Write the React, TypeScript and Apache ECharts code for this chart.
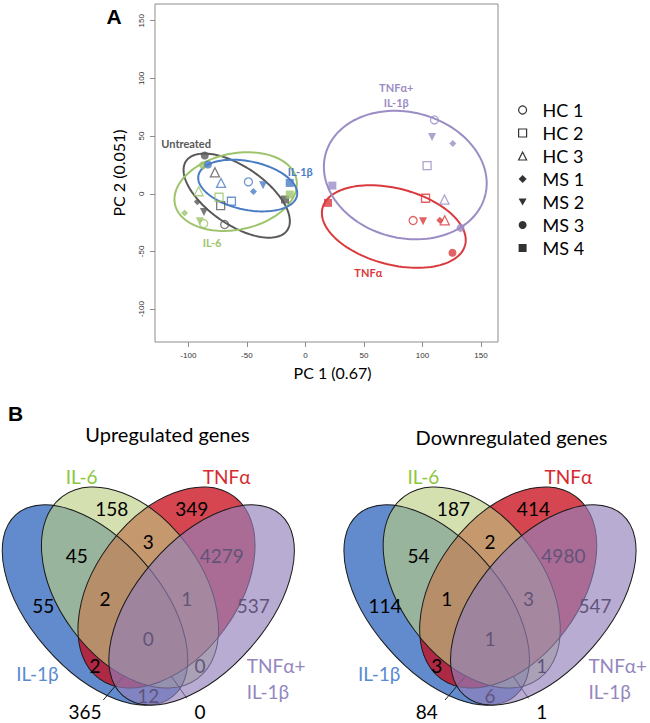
import React, { useEffect, useRef } from "react";
import * as echarts from "echarts";

// ---------- Panel A data ----------
const groups = ["Untreated", "IL-6", "IL-1β", "TNFα", "TNFα+IL-1β"];
const samples = ["HC 1", "HC 2", "HC 3", "MS 1", "MS 2", "MS 3", "MS 4"];
// PC1 / PC2 per treatment group, in sample order (HC1..MS4)
const pc1Untreated = [-69, -72.4, -77.3, -92.3, -86.7, -86, -17.4];
const pc2Untreated = [-26.7, -10.2, 18.6, -7, -15.7, 33.1, -5];
const pc1IL6 = [-86.9, -73.8, -91.2, -103.2, -90.3, -87.5, -13.4];
const pc2IL6 = [-25.8, -3, 2.2, -16.6, -23.8, 24.7, -0.7];
const pc1IL1b = [-48.7, -63.2, -72.1, -44.4, -36.2, -83.2, -13.4];
const pc2IL1b = [10.3, -6.5, 9.4, 1.9, 7.4, 25.3, 9.4];
const pc1TNF = [92, 102.6, 119, 114.8, 100.5, 125.6, 19.3];
const pc2TNF = [-23.2, -3.9, -23, -23, -23.8, -51.2, -7.9];
const pc1Combo = [110.2, 103.9, 118.8, 125.9, 108.2, 132.5, 23];
const pc2Combo = [64, 24.4, -5, 43.5, 49.3, -29.6, 7.1];

// group ellipses (data units): centre, semi-axes, angle in degrees
const ellipseCx = [-58.7, -59.6, -49.3, 75.5, 85.3];
const ellipseCy = [-1.6, 1.9, 7.1, -28.4, 16.2];
const ellipseA = [52.6, 53, 43, 63, 70.5];
const ellipseB = [25, 33, 21, 33, 54.5];
const ellipseAngle = [-35, 12, -12, -15, -15];

// group labels
const labelText = ["Untreated", "IL-6", "IL-1β", "TNFα", "TNFα+\nIL-1β"];
const labelPc1 = [-101.9, -79.7, -4.4, 53.7, 77.6];
const labelPc2 = [43.2, -42.3, 19.5, -68.3, 85.3];

const axisTicks = [-100, -50, 0, 50, 100, 150];

// ---------- Panel B data ----------
const vennSets = ["IL-1β", "IL-6", "TNFα", "TNFα+\nIL-1β"];
const vennRegions = [
  "IL-6", "TNFα", "IL-1β∩IL-6", "IL-6∩TNFα", "TNFα∩TNFα+IL-1β", "IL-1β",
  "IL-1β∩IL-6∩TNFα", "IL-6∩TNFα∩TNFα+IL-1β", "TNFα+IL-1β", "all four",
  "IL-1β∩TNFα", "IL-6∩TNFα+IL-1β", "IL-1β∩TNFα+IL-1β",
  "IL-1β∩TNFα∩TNFα+IL-1β", "IL-1β∩IL-6∩TNFα+IL-1β",
];
const upregulated = [158, 349, 45, 3, 4279, 55, 2, 1, 537, 0, 2, 0, 12, 365, 0];
const downregulated = [187, 414, 54, 2, 4980, 114, 1, 3, 547, 1, 3, 1, 6, 84, 1];
const vennTitles = ["Upregulated genes", "Downregulated genes"];

// ---------- styles / layout ----------
const groupColors = ["#595959", "#9dc46b", "#4a7cc4", "#d93a3d", "#9b8cc6"];
const sampleSymbols = ["circle", "rect", "triangle", "diamond", "path://M0,0L10,0L5,9Z", "circle", "rect"];
const sampleHollow = [true, true, true, false, false, false, false];
const sampleSizes = [8, 8, 9, 7, 8, 8, 8];
const FONT = "Lato, 'Open Sans', sans-serif";

const regionPos = [
  [111.7, 508.3], [191.7, 508.3], [76.7, 555], [148.3, 541.7], [221.7, 555], [43.3, 605],
  [105, 598.3], [186.7, 598.3], [253.3, 605], [148.3, 638.3], [95, 665], [200, 665],
  [148.3, 695], [85, 711.7], [200, 711.7],
];
const leaderLines = [
  [103.3, 700, 123.3, 676.7],
  [186.7, 698.3, 171.7, 676.7],
];

function vennGraphics(counts: number[], dx: number, title: string, titleX: number, titleY: number) {
  const els: any[] = [];
  const ell = (e: number[], fill: string, stroke: boolean) => ({
    type: "ellipse",
    x: e[0] + dx,
    y: e[1],
    rotation: (e[4] * Math.PI) / 180,
    shape: { cx: 0, cy: 0, rx: e[2], ry: e[3] },
    style: { fill, stroke: stroke ? "#1a1a1a" : "none", lineWidth: 1 },
    silent: true,
  });
  const blue = [95, 605, 120, 65, -49];
  const red = [166.5, 587.5, 113.3, 71.4, 53.5];
  const green = [130, 587.5, 113.3, 71.4, -53.5];
  const purple = [201.6, 605, 120, 65, 49];
  els.push(ell(blue, "rgba(37,94,186,0.72)", false));
  els.push(ell(red, "rgba(199,8,22,0.75)", false));
  els.push(ell(green, "rgba(187,205,128,0.62)", false));
  [blue, red, green].forEach((e) => els.push(ell(e, "none", true)));
  counts.forEach((c, i) => {
    els.push({
      type: "text",
      x: regionPos[i][0] + dx,
      y: regionPos[i][1],
      silent: true,
      style: { text: String(c), fill: "#000", font: `19px ${FONT}`, align: "center", verticalAlign: "middle" },
    });
  });
  leaderLines.forEach((l) =>
    els.push({ type: "line", silent: true, shape: { x1: l[0] + dx, y1: l[1], x2: l[2] + dx, y2: l[3] }, style: { stroke: "#1a1a1a", lineWidth: 1 } })
  );
  els.push(ell(purple, "rgba(147,128,186,0.65)", true));
  // set labels
  const setLab = [
    { t: vennSets[0], x: 37.5, y: 673.5, c: "#5a8bd0", a: "center" },
    { t: vennSets[1], x: 81.7, y: 476.7, c: "#8cc63e", a: "center" },
    { t: vennSets[2], x: 226.7, y: 476.7, c: "#d62b2f", a: "center" },
    { t: vennSets[3], x: 246.7, y: 678.5, c: "#9487c0", a: "left" },
  ];
  setLab.forEach((s) =>
    els.push({
      type: "text",
      x: s.x + dx,
      y: s.y,
      silent: true,
      style: { text: s.t, fill: s.c, font: `19px ${FONT}`, align: s.a, verticalAlign: "middle", lineHeight: 26 },
    })
  );
  els.push({
    type: "text",
    x: titleX,
    y: titleY,
    silent: true,
    style: { text: title, fill: "#000", font: `20px ${FONT}`, align: "center", verticalAlign: "middle" },
  });
  return els;
}

export default function App() {
  const ref = useRef<HTMLDivElement>(null);
  useEffect(() => {
    if (!ref.current) return;
    const chart = echarts.init(ref.current, undefined, { renderer: "svg" });
    const pc1 = [pc1Untreated, pc1IL6, pc1IL1b, pc1TNF, pc1Combo];
    const pc2 = [pc2Untreated, pc2IL6, pc2IL1b, pc2TNF, pc2Combo];

    const scatterSeries = samples.map((s, i) => ({
      type: "scatter",
      name: s,
      symbol: sampleSymbols[i],
      symbolSize: sampleSizes[i],
      z: 4,
      silent: true,
      itemStyle: sampleHollow[i]
        ? { color: "rgba(0,0,0,0)", borderColor: "#000", borderWidth: 1.3 }
        : { color: "#000", borderWidth: 0 },
      data: groups.map((g, gi) => ({
        name: g,
        value: [pc1[gi][i], pc2[gi][i]],
        itemStyle: sampleHollow[i]
          ? { color: "rgba(0,0,0,0)", borderColor: groupColors[gi], borderWidth: 1.3 }
          : { color: groupColors[gi] },
      })),
    }));

    const ellipseSeries = {
      type: "custom",
      name: "ellipses",
      coordinateSystem: "cartesian2d",
      silent: true,
      z: 2,
      encode: { x: 0, y: 1 },
      data: groups.map((g, i) => [ellipseCx[i], ellipseCy[i], ellipseA[i], ellipseB[i], ellipseAngle[i], i]),
      renderItem: (params: any, api: any) => {
        const cx = api.value(0), cy = api.value(1), a = api.value(2), b = api.value(3);
        const ang = (api.value(4) * Math.PI) / 180;
        const gi = api.value(5);
        const pts: number[][] = [];
        for (let k = 0; k < 120; k++) {
          const t = (k / 120) * 2 * Math.PI;
          const x = cx + a * Math.cos(t) * Math.cos(ang) - b * Math.sin(t) * Math.sin(ang);
          const y = cy + a * Math.cos(t) * Math.sin(ang) + b * Math.sin(t) * Math.cos(ang);
          pts.push(api.coord([x, y]));
        }
        return { type: "polygon", shape: { points: pts }, style: { fill: "none", stroke: groupColors[gi], lineWidth: 2 } };
      },
    };

    const labelSeries = {
      type: "custom",
      name: "labels",
      coordinateSystem: "cartesian2d",
      silent: true,
      z: 5,
      encode: { x: 0, y: 1 },
      data: labelText.map((t, i) => [labelPc1[i], labelPc2[i], i]),
      renderItem: (params: any, api: any) => {
        const p = api.coord([api.value(0), api.value(1)]);
        const i = api.value(2);
        return {
          type: "text",
          x: p[0],
          y: p[1],
          style: {
            text: labelText[i],
            fill: groupColors[i],
            font: `bold 11px ${FONT}`,
            align: "center",
            verticalAlign: "middle",
            lineHeight: 15,
          },
        };
      },
    };

    const option: any = {
      animation: false,
      grid: { left: 155, top: 4, width: 343, height: 338, show: true, borderColor: "#8c8c8c", borderWidth: 1 },
      xAxis: {
        type: "value",
        min: -128.5,
        max: 164.5,
        axisLine: { show: false, onZero: false },
        splitLine: { show: false },
        axisTick: { show: true, customValues: axisTicks, length: 5, lineStyle: { color: "#8c8c8c" } },
        axisLabel: { customValues: axisTicks, fontSize: 8, color: "#333", fontFamily: "'Liberation Sans', Arial", margin: 9 },
        name: "PC 1 (0.67)",
        nameLocation: "middle",
        nameGap: 22,
        nameTextStyle: { fontSize: 16, fontFamily: FONT, color: "#000", padding: [0, 0, 0, 12] },
      },
      yAxis: {
        type: "value",
        min: -128.5,
        max: 164.5,
        axisLine: { show: false, onZero: false },
        splitLine: { show: false },
        axisTick: { show: true, customValues: axisTicks, length: 5, lineStyle: { color: "#8c8c8c" } },
        axisLabel: { customValues: axisTicks, rotate: 90, fontSize: 8, color: "#333", fontFamily: "'Liberation Sans', Arial", margin: 10 },
        name: "PC 2 (0.051)",
        nameLocation: "middle",
        nameGap: 29,
        nameTextStyle: { fontSize: 16, fontFamily: FONT, color: "#000" },
      },
      legend: {
        orient: "vertical",
        left: 513,
        top: 96,
        itemWidth: 8,
        itemHeight: 8,
        itemGap: 5,
        selectedMode: false,
        textStyle: { fontFamily: FONT, fontSize: 18, color: "#000", lineHeight: 18, padding: [0, 0, 0, 11] },
        data: samples.map((s, i) => ({
          name: s,
          icon: sampleSymbols[i],
          itemStyle: sampleHollow[i]
            ? { color: "#fff", borderColor: "#000", borderWidth: 1.2 }
            : { color: "#000", borderWidth: 0 },
        })),
      },
      graphic: [
        { type: "text", x: 114, y: 16, silent: true, style: { text: "A", fill: "#000", font: "bold 21px 'Liberation Sans', Arial", align: "center", verticalAlign: "middle" } },
        { type: "text", x: 15.5, y: 413, silent: true, style: { text: "B", fill: "#000", font: "bold 21px 'Liberation Sans', Arial", align: "center", verticalAlign: "middle" } },
        ...vennGraphics(upregulated, 0, vennTitles[0], 167.5, 433.5),
        ...vennGraphics(downregulated, 341.7, vennTitles[1], 511.5, 436.5),
      ],
      series: [ellipseSeries, ...scatterSeries, labelSeries],
    };
    chart.setOption(option);
    return () => chart.dispose();
  }, []);
  return <div ref={ref} style={{ position: "fixed", left: 0, top: 0, width: 650, height: 723, background: "#fff" }} />;
}
